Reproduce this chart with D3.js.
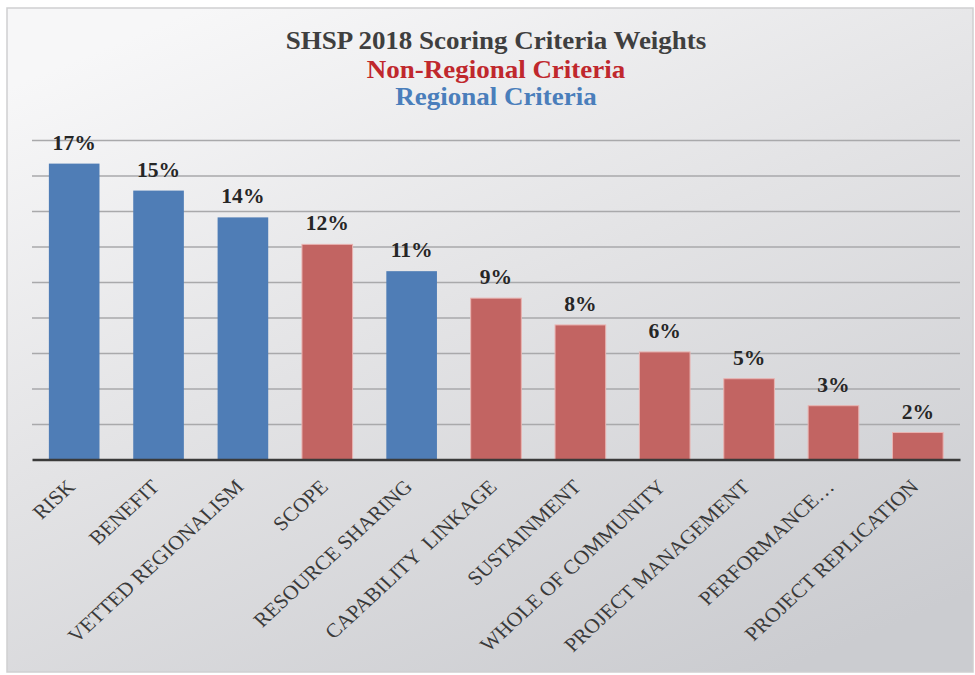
<!DOCTYPE html>
<html>
<head>
<meta charset="utf-8">
<script src="https://cdn.jsdelivr.net/npm/d3@7"></script>
<style>
  html, body { margin: 0; padding: 0; background: #ffffff; }
  svg { display: block; }
  text { white-space: pre; }
</style>
</head>
<body>
<div id="chart"></div>
<script>
// ---- Data ----
const categories = ["RISK", "BENEFIT", "VETTED REGIONALISM", "SCOPE", "RESOURCE SHARING",
  "CAPABILITY  LINKAGE", "SUSTAINMENT", "WHOLE OF COMMUNITY", "PROJECT MANAGEMENT",
  "PERFORMANCE…", "PROJECT REPLICATION"];
const weights = [16.67, 15.15, 13.64, 12.12, 10.61, 9.09, 7.58, 6.06, 4.55, 3.03, 1.52];
const valueLabels = ["17%", "15%", "14%", "12%", "11%", "9%", "8%", "6%", "5%", "3%", "2%"];
const criteriaType = ["Regional", "Regional", "Regional", "Non-Regional", "Regional",
  "Non-Regional", "Non-Regional", "Non-Regional", "Non-Regional", "Non-Regional", "Non-Regional"];
const gridTicks = [0, 2, 4, 6, 8, 10, 12, 14, 16, 18];
const titleLines = ["SHSP 2018 Scoring Criteria Weights", "Non-Regional Criteria", "Regional Criteria"];

// ---- Layout ----
const W = 975, H = 675;
const SX = 1.08; // horizontal stretch of glyphs in the reference
const serif = "'Liberation Serif', 'Times New Roman', serif";

const svg = d3.select("#chart").append("svg").attr("width", W).attr("height", H);

const defs = svg.append("defs");
const grad = defs.append("linearGradient").attr("id", "bg")
  .attr("x1", "0.2").attr("y1", "0").attr("x2", "0.8").attr("y2", "1");
grad.append("stop").attr("offset", "0").attr("stop-color", "#f7f7f8");
grad.append("stop").attr("offset", "0.45").attr("stop-color", "#e3e3e5");
grad.append("stop").attr("offset", "1").attr("stop-color", "#cbccd0");

svg.append("rect").attr("x", 7).attr("y", 8).attr("width", 966).attr("height", 664)
  .attr("fill", "url(#bg)").attr("stroke", "#cfcfd1").attr("stroke-width", 1.5);

const x = d3.scaleBand().domain(categories).range([32, 960]).paddingInner(0.4).paddingOuter(0.2);
const y = d3.scaleLinear().domain([0, 18]).range([459.5, 140]);
const color = d3.scaleOrdinal().domain(["Regional", "Non-Regional"]).range(["#4f7db6", "#c26462"]);
const titleColors = ["#3f3f3f", "#c0282d", "#4a7ebb"];

// gridlines
const grid = svg.append("g").attr("transform", "translate(32,0)")
  .call(d3.axisLeft(y).tickValues(gridTicks.slice(1)).tickSize(-928).tickFormat(""));
grid.select(".domain").remove();
grid.selectAll(".tick line").attr("stroke", "#a9a9ab").attr("stroke-width", 1.5);

// bars
svg.append("g").selectAll("rect").data(categories).join("rect")
  .attr("x", d => x(d))
  .attr("y", (d, i) => y(weights[i]))
  .attr("width", x.bandwidth())
  .attr("height", (d, i) => y(0) - y(weights[i]))
  .attr("fill", (d, i) => color(criteriaType[i]))
  .attr("stroke", (d, i) => criteriaType[i] === "Regional" ? "none" : "#e9b3b1")
  .attr("stroke-width", 1);

// x axis line
const xAxis = svg.append("g").attr("transform", `translate(0,${y(0)})`)
  .call(d3.axisBottom(x).tickSize(0).tickFormat(""));
xAxis.select(".domain").attr("stroke", "#3a3a3a").attr("stroke-width", 2.5);

// category labels
svg.append("g").selectAll("text").data(categories).join("text")
  .attr("transform", d => `translate(${x(d) + x.bandwidth() / 2 + 2},488) scale(${SX},1) rotate(-45)`)
  .attr("text-anchor", "end")
  .attr("font-family", serif).attr("font-size", 20)
  .attr("fill", "#3a3a3a")
  .text(d => d);

// value labels
svg.append("g").selectAll("text").data(categories).join("text")
  .attr("transform", (d, i) => `translate(${x(d) + x.bandwidth() / 2},${y(weights[i]) - 14}) scale(${SX},1)`)
  .attr("text-anchor", "middle")
  .attr("font-family", serif).attr("font-size", 20).attr("font-weight", "bold")
  .attr("fill", "#262626")
  .text((d, i) => valueLabels[i]);

// titles
const titleY = [48.5, 78.3, 105];
svg.append("g").selectAll("text").data(titleLines).join("text")
  .attr("transform", (d, i) => `translate(496,${titleY[i]}) scale(${SX},1)`)
  .attr("text-anchor", "middle")
  .attr("font-family", serif).attr("font-size", 25).attr("font-weight", "bold")
  .attr("fill", (d, i) => titleColors[i])
  .text(d => d);
</script>
</body>
</html>
